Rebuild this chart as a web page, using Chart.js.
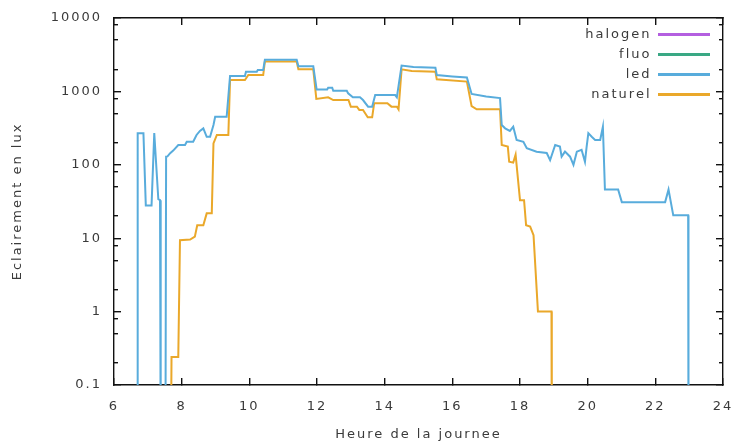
<!DOCTYPE html>
<html>
<head>
<meta charset="utf-8">
<script src="https://cdn.jsdelivr.net/npm/chart.js"></script>
<style>
  html, body { margin: 0; padding: 0; background: #fff; }
</style>
</head>
<body>
<canvas id="chart" width="740" height="443"></canvas>
<script>
const seriesNames = ["halogen", "fluo", "led", "naturel"];
const seriesColors = ["#b45fe0", "#3aa884", "#58acdc", "#eaa82a"];

// led (hours, lux)
const ledHours = [6.68, 6.70, 6.87, 6.94, 7.11, 7.19, 7.31, 7.36, 7.38, 7.52,
  7.54, 7.58, 7.66, 7.75, 7.90, 8.10, 8.15, 8.34, 8.44, 8.54,
  8.64, 8.74, 8.84, 8.94, 8.99, 9.33, 9.43, 9.87, 9.90, 10.22,
  10.25, 10.41, 10.46, 11.40, 11.45, 11.89, 11.99, 12.30, 12.33, 12.45,
  12.48, 12.88, 12.92, 13.06, 13.27, 13.36, 13.51, 13.63, 13.72, 14.31,
  14.36, 14.50, 14.85, 15.50, 15.54, 16.00, 16.43, 16.57, 17.00, 17.41,
  17.46, 17.56, 17.70, 17.80, 17.90, 18.10, 18.20, 18.49, 18.79, 18.89,
  19.04, 19.18, 19.23, 19.33, 19.48, 19.58, 19.68, 19.82, 19.92, 19.97,
  20.02, 20.12, 20.22, 20.37, 20.45, 20.51, 20.90, 21.01, 22.29, 22.39,
  22.53, 22.97, 22.98];
const ledLux = [0.01, 270, 270, 28, 28, 270, 34, 33, 0.01, 0.01,
  129, 130, 144, 156, 186, 186, 206, 206, 255, 290,
  314, 241, 241, 348, 452, 452, 1620, 1620, 1850, 1850,
  1960, 1960, 2700, 2700, 2200, 2200, 1060, 1060, 1120, 1120,
  1020, 1020, 940, 830, 830, 763, 620, 620, 890, 890,
  830, 2250, 2150, 2100, 1670, 1600, 1550, 923, 850, 810,
  348, 314, 290, 330, 218, 206, 168, 151, 145, 116,
  186, 177, 129, 151, 129, 100, 151, 160, 110, 177,
  270, 241, 218, 218, 330, 46, 46, 31, 31, 46,
  20.5, 20.5, 0.01];

// naturel (hours, lux)
const naturelHours = [7.68, 7.70, 7.90, 7.95, 8.25, 8.39, 8.46, 8.64, 8.74, 8.89,
  8.94, 9.04, 9.38, 9.43, 9.87, 9.97, 10.41, 10.46, 11.40, 11.45,
  11.89, 11.98, 12.33, 12.48, 12.93, 13.00, 13.18, 13.25, 13.36, 13.50,
  13.63, 13.69, 14.08, 14.20, 14.36, 14.41, 14.50, 14.80, 15.50, 15.54,
  16.43, 16.57, 16.72, 17.41, 17.46, 17.64, 17.68, 17.80, 17.87, 18.00,
  18.12, 18.18, 18.30, 18.40, 18.53, 18.93, 18.94];
const naturelLux = [0.01, 0.24, 0.24, 9.4, 9.6, 10.5, 15, 15, 21.8, 21.8,
  196, 255, 255, 1430, 1430, 1670, 1670, 2560, 2560, 2000,
  2000, 790, 830, 763, 763, 620, 620, 560, 560, 443,
  443, 690, 690, 620, 620, 570, 2000, 1900, 1850, 1460,
  1360, 630, 570, 570, 186, 177, 110, 107, 137, 33,
  33, 15, 14.4, 11, 1.0, 1.0, 0.01];

const xTicks = [6, 8, 10, 12, 14, 16, 18, 20, 22, 24];
const yTicks = [0.1, 1, 10, 100, 1000, 10000];
const yMinorSteps = [2, 5, 8];
const yMinorTicks = yTicks.slice(0, -1).flatMap((v) => yMinorSteps.map((m) => v * m));

const FONT = "DejaVu Sans";
const TEXT = "#3a3a3a";
const INK = "#111";

function toPoints(xs, ys) {
  return xs.map((x, i) => ({ x: x, y: ys[i] }));
}

const seriesData = {
  halogen: [],
  fluo: [],
  led: toPoints(ledHours, ledLux),
  naturel: toPoints(naturelHours, naturelLux),
};

// text spacing + key placed inside the plot, top right
const keyPlugin = {
  id: "gkey",
  beforeLayout(chart) {
    chart.ctx.letterSpacing = "2px";
  },
  afterLayout(chart) {
    const lg = chart.legend;
    if (!lg) return;
    const a = chart.chartArea;
    lg.left = a.right - lg.width - 6;
    lg.right = lg.left + lg.width;
    lg.top = a.top + 3;
    lg.bottom = lg.top + lg.height;
  },
  beforeDraw(chart) {
    chart.ctx.letterSpacing = "2px";
  },
};

// inward tick marks (negative tickLength), no grid lines across the plot
function inwardGrid(len) {
  return { display: true, drawOnChartArea: false, drawTicks: true, tickLength: -len, color: INK, lineWidth: 1.4 };
}

// bare mirror axis: border + inward ticks only, takes no room
function mirrorAxis(position, type, min, max, ticks, len, border) {
  return {
    type: type,
    position: position,
    min: min,
    max: max,
    weight: 0,
    grid: inwardGrid(len),
    border: { display: border, color: INK, width: 1.4 },
    ticks: { display: false },
    afterBuildTicks: (scale) => {
      scale.ticks = ticks.map((v) => ({ value: v }));
    },
    afterFit: (scale) => {
      if (scale.isHorizontal()) scale.height = 0; else scale.width = 0;
      scale.paddingLeft = scale.paddingRight = scale.paddingTop = scale.paddingBottom = 0;
    },
  };
}

new Chart(document.getElementById("chart"), {
  type: "line",
  data: {
    datasets: seriesNames.map((name, i) => ({
      label: name,
      data: seriesData[name],
      borderColor: seriesColors[i],
      backgroundColor: seriesColors[i],
      borderWidth: 2,
      pointRadius: 0,
      tension: 0,
      fill: false,
    })),
  },
  options: {
    responsive: false,
    animation: false,
    devicePixelRatio: 1,
    layout: { padding: { top: 18, right: 17, bottom: 0, left: 0 } },
    plugins: {
      tooltip: { enabled: false },
      legend: {
        position: "chartArea",
        align: "start",
        rtl: true,
        labels: {
          usePointStyle: true,
          pointStyle: "line",
          pointStyleWidth: 52,
          padding: 7,
          color: TEXT,
          font: { family: FONT, size: 13 },
          generateLabels: (c) =>
            Chart.defaults.plugins.legend.labels
              .generateLabels(c)
              .map((l) => ({ ...l, lineWidth: 3 })),
        },
      },
    },
    scales: {
      x: {
        type: "linear",
        min: 6,
        max: 24,
        grid: inwardGrid(7),
        border: { display: true, color: INK, width: 1.4 },
        afterBuildTicks: (scale) => {
          scale.ticks = xTicks.map((v) => ({ value: v }));
        },
        afterFit: (scale) => {
          scale.height = 58;
          scale.paddingLeft = 0;
          scale.paddingRight = 0;
        },
        ticks: {
          padding: 21,
          maxRotation: 0,
          color: TEXT,
          font: { family: FONT, size: 13 },
        },
        title: {
          display: true,
          text: "Heure de la journee",
          color: TEXT,
          padding: { top: 0, bottom: 1 },
          font: { family: FONT, size: 13 },
        },
      },
      y: {
        type: "logarithmic",
        min: 0.1,
        max: 10000,
        weight: 1,
        grid: inwardGrid(7),
        border: { display: true, color: INK, width: 1.4 },
        afterBuildTicks: (scale) => {
          scale.ticks = yTicks.map((v) => ({ value: v }));
        },
        afterFit: (scale) => {
          scale.width = 114;
          scale.paddingTop = 0;
          scale.paddingBottom = 0;
        },
        ticks: {
          padding: 19,
          color: TEXT,
          font: { family: FONT, size: 13 },
          callback: (v) => String(v),
        },
        title: {
          display: true,
          text: "Eclairement en lux",
          color: TEXT,
          padding: { top: 10, bottom: 0 },
          font: { family: FONT, size: 13 },
        },
      },
      x2: mirrorAxis("top", "linear", 6, 24, xTicks, 7, true),
      y2: mirrorAxis("right", "logarithmic", 0.1, 10000, yTicks, 7, true),
      yl: mirrorAxis("left", "logarithmic", 0.1, 10000, yMinorTicks, 4, false),
      yr: mirrorAxis("right", "logarithmic", 0.1, 10000, yMinorTicks, 4, false),
    },
  },
  plugins: [keyPlugin],
});
</script>
</body>
</html>
